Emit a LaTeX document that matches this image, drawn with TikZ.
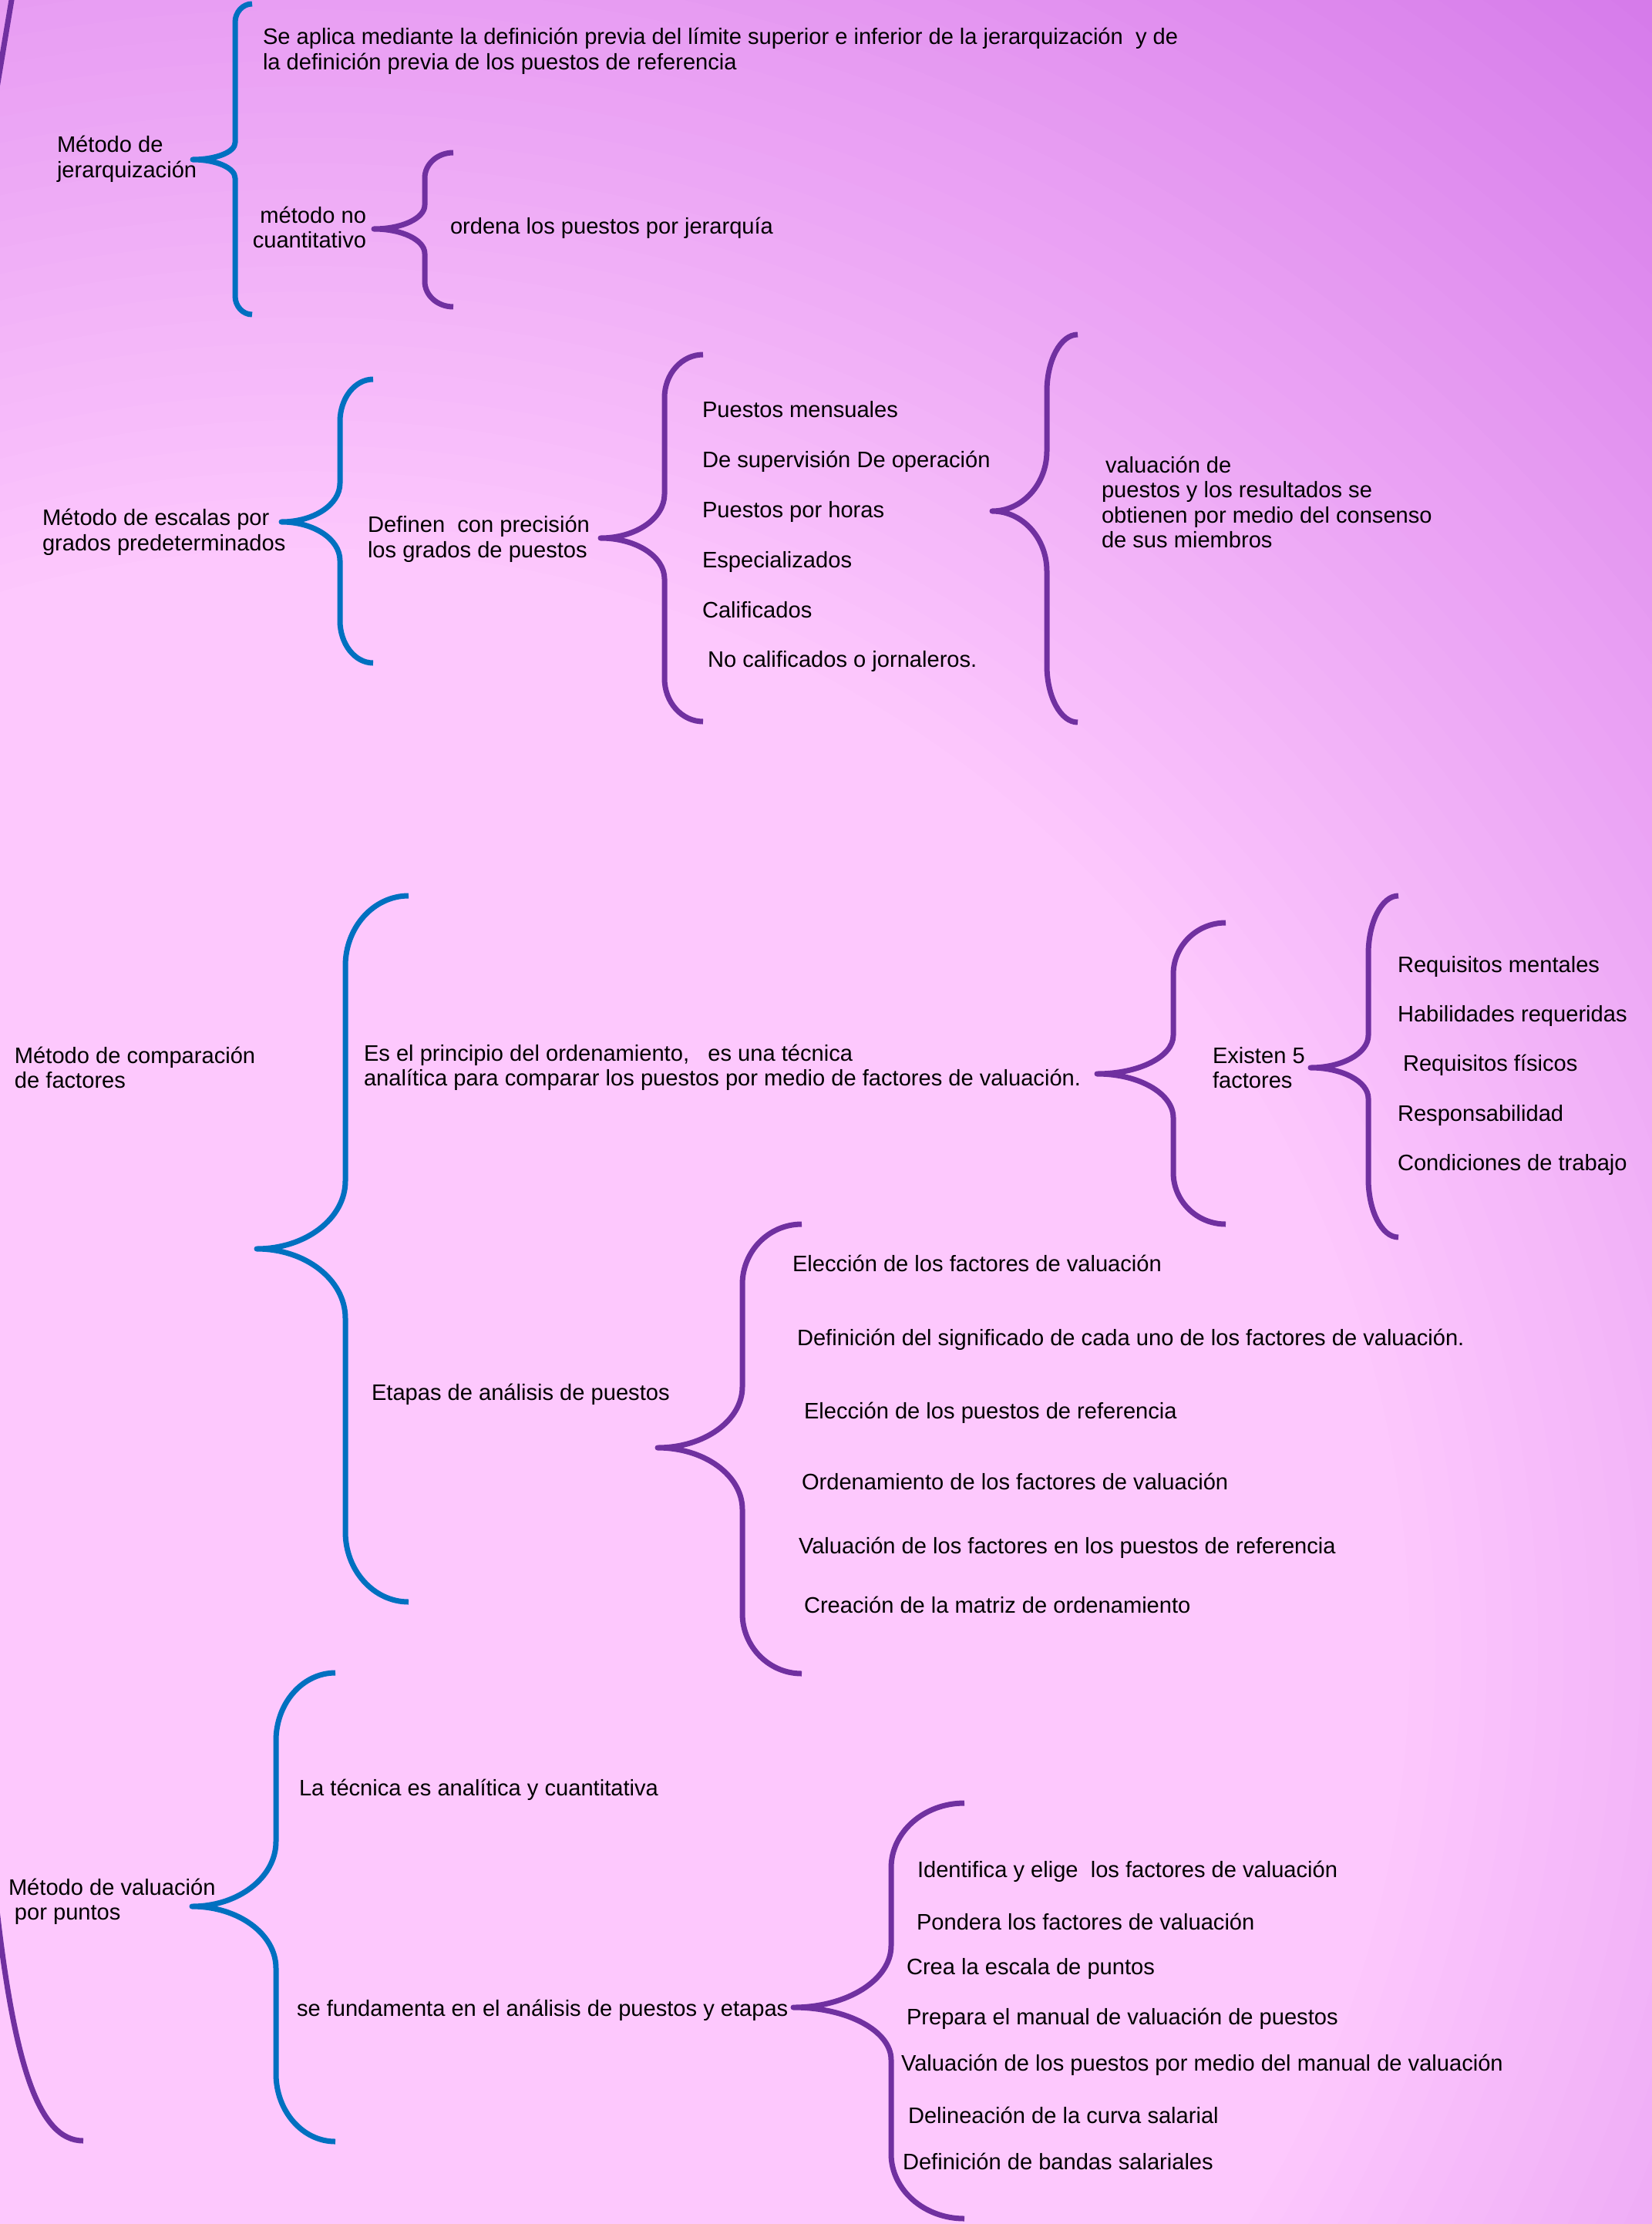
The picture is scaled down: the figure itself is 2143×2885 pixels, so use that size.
\documentclass[tikz,border=0pt]{standalone}
\usepackage{fontspec}
\setmainfont{Liberation Sans}
\definecolor{bgpink}{HTML}{FDC8FD}
\definecolor{bgpurple}{HTML}{D67BEA}
\definecolor{bblue}{HTML}{0070C0}
\definecolor{bpurple}{HTML}{7030A0}
% brace path: 1 xt, 2 ym, 3 xs, 4 xe, 5 ytop, 6 ybot, 7 R, 8 r1, 9 r2
\newcommand\curlypath[9]{(#4,#5) .. controls ({#4-0.552*(#4-#3)},#5) and (#3,{#5+0.448*#7}) .. (#3,{#5+#7})
 -- (#3,{#2-#8}) .. controls (#3,{#2-0.448*#8}) and ({#1+0.552*(#3-#1)},#2) .. (#1,#2)
 .. controls ({#1+0.552*(#3-#1)},#2) and (#3,{#2+0.448*#9}) .. (#3,{#2+#9})
 -- (#3,{#6-#7}) .. controls (#3,{#6-0.448*#7}) and ({#4-0.552*(#4-#3)},#6) .. (#4,#6)}
\tikzset{
  lbl/.style={anchor=west, inner sep=0pt, outer sep=0pt, font=\fontsize{29.1}{32.5}\selectfont, text=black, align=left},
  one/.style={lbl, text height=21pt, text depth=6pt},
  bracestroke/.style={line width=7pt, line join=round, line cap=butt},
  bbrace/.style={bracestroke, draw=bblue},
  pbrace/.style={bracestroke, draw=bpurple},
}
\begin{document}
\begin{tikzpicture}[x=1pt,y=-1pt]
\useasboundingbox (0,0) rectangle (2143,2885);
\begin{scope}
  \clip (0,0) rectangle (2143,2885);
  \fill[bgpurple] (0,0) rectangle (2143,2885);
  \foreach \i in {0,...,40} {
    \pgfmathsetmacro\rr{2760-\i*33.275}
    \pgfmathsetmacro\ff{100-\i*2.5}
    \fill[bgpurple!\ff!bgpink] (400,2140) circle (\rr pt);
  }
  \draw[pbrace] (17,-12) -- (-4,114);
  \draw[pbrace] (-10,2420) .. controls (15,2680) and (50,2777) .. (108,2777);
\end{scope}

% ---------- Group 1 ----------
\draw[bbrace] \curlypath{250}{207}{305}{327}{5}{408}{24}{22}{24};
\draw[pbrace] \curlypath{485}{297}{551}{588}{198}{398}{33}{31}{32};
\node[lbl] (jer) at (74,206.5) {Método de\\jerarquización};
\node[lbl] (jerA) at (341,66.5) {Se aplica mediante la definición previa del límite superior e inferior de la jerarquización\ \ y de\\la definición previa de los puestos de referencia};
\node[lbl, anchor=east, align=right] (jerB) at (475,295) {método no\\cuantitativo};
\node[one] (jerC) at (584,296) {ordena los puestos por jerarquía};

% ---------- Group 2 ----------
\draw[bbrace] \curlypath{365}{677}{441}{484}{492}{860}{55}{50}{50};
\draw[pbrace] \curlypath{779}{698}{862}{912}{460}{936}{56}{57}{53};
\draw[pbrace] \curlypath{1287}{663}{1358}{1398}{434}{937}{74}{78}{78};
\node[lbl] (esc) at (55,690.5) {Método de escalas por\\grados predeterminados};
\node[lbl] (escA) at (477,699.5) {Definen\ \ con precisión\\los grados de puestos};
\node[one] (escI1) at (911,534) {Puestos mensuales};
\node[one] (escI2) at (911,599) {De supervisión De operación};
\node[one] (escI3) at (911,664) {Puestos por horas};
\node[one] (escI4) at (911,729) {Especializados};
\node[one] (escI5) at (911,794) {Calificados};
\node[one] (escI6) at (918,858) {No calificados o jornaleros.};
\node[lbl] (escB) at (1429,651.5) {\hspace{5pt}valuación de\\puestos y los resultados se\\obtienen por medio del consenso\\de sus miembros};

% ---------- Group 3 ----------
\draw[bbrace] \curlypath{333}{1620}{448}{530}{1162}{2078}{91}{88}{90};
\draw[pbrace] \curlypath{1423}{1393}{1522}{1590}{1197}{1588}{67}{50}{57};
\draw[pbrace] \curlypath{1700}{1385}{1775}{1814}{1162}{1605}{76}{42}{40};
\draw[pbrace] \curlypath{853}{1878}{963}{1040}{1588}{2171}{78}{79}{80};
\node[lbl] (cmp) at (19,1385) {Método de comparación\\de factores};
\node[lbl] (cmpA) at (472,1385) {Es el principio del ordenamiento,\ \ \ es una técnica\\analítica para comparar los puestos por medio de factores de valuación.};
\node[lbl] (cmpB) at (1573,1385) {Existen 5\\factores};
\node[one] (fac1) at (1813,1254) {Requisitos mentales};
\node[one] (fac2) at (1813,1318) {Habilidades requeridas};
\node[one] (fac3) at (1820,1382) {Requisitos físicos};
\node[one] (fac4) at (1813,1447) {Responsabilidad};
\node[one] (fac5) at (1813,1511) {Condiciones de trabajo};
\node[one] (cmpC) at (482,1809) {Etapas de análisis de puestos};
\node[one] (eta1) at (1028,1642) {Elección de los factores de valuación};
\node[one] (eta2) at (1034,1738) {Definición del significado de cada uno de los factores de valuación.};
\node[one] (eta3) at (1043,1833) {Elección de los puestos de referencia};
\node[one] (eta4) at (1040,1925) {Ordenamiento de los factores de valuación};
\node[one] (eta5) at (1036,2008) {Valuación de los factores en los puestos de referencia};
\node[one] (eta6) at (1043,2085) {Creación de la matriz de ordenamiento};

% ---------- Group 4 ----------
\draw[bbrace] \curlypath{249}{2473}{358}{435}{2170}{2778}{88}{84}{80};
\draw[pbrace] \curlypath{1029}{2604}{1156}{1251}{2339}{2878}{84}{80}{68};
\node[lbl] (pts) at (11,2467) {Método de valuación\\\hspace{8pt}por puntos};
\node[one] (ptsA) at (388,2322) {La técnica es analítica y cuantitativa};
\node[one] (ptsB) at (385,2608) {se fundamenta en el análisis de puestos y etapas};
\node[one] (pe1) at (1190,2428) {Identifica y elige\ \ los factores de valuación};
\node[one] (pe2) at (1189,2496) {Pondera los factores de valuación};
\node[one] (pe3) at (1176,2554) {Crea la escala de puntos};
\node[one] (pe4) at (1176,2619) {Prepara el manual de valuación de puestos};
\node[one] (pe5) at (1169,2679) {Valuación de los puestos por medio del manual de valuación};
\node[one] (pe6) at (1178,2747) {Delineación de la curva salarial};
\node[one] (pe7) at (1171,2807) {Definición de bandas salariales};
\end{tikzpicture}
\end{document}
